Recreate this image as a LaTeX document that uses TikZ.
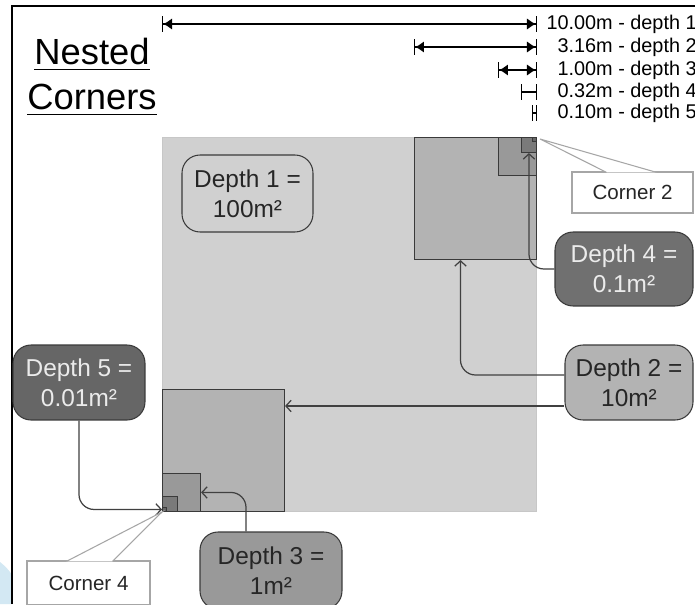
\documentclass[tikz,border=0pt]{standalone}
\usepackage{fontspec}
\setmainfont{Liberation Sans}
\usetikzlibrary{arrows.meta}
\newcommand{\ulword}[1]{\leavevmode\setbox0=\hbox{#1}\rlap{\rule[-3.1pt]{\wd0}{1.1pt}}\box0}
\definecolor{shadeA}{HTML}{D0D0D0}
\definecolor{shadeB}{HTML}{B3B3B3}
\definecolor{shadeC}{HTML}{999999}
\definecolor{shadeD}{HTML}{7A7A7A}
\definecolor{shadeE}{HTML}{666666}
\definecolor{boxFour}{HTML}{707070}
\definecolor{edge}{HTML}{3A3A3A}
\definecolor{wire}{HTML}{404040}
\definecolor{calloutgray}{HTML}{A6A6A6}
\definecolor{paletext}{HTML}{EBEBEB}
\definecolor{slideblue}{HTML}{D3E8F3}
\begin{document}
\begin{tikzpicture}[x=0.02cm, y=-0.02cm,
  sq/.style={draw=edge, line width=0.6pt, inner sep=0pt},
  depth/.style={draw=edge, line width=0.6pt, rounded corners=0.36cm, align=center, inner sep=0pt,
    minimum height=1.5cm, font=\fontsize{13.9}{17}\selectfont},
  note/.style={fill=white, draw=calloutgray, line width=0.6pt, inner sep=0pt,
    minimum width=2.42cm, minimum height=0.82cm, font=\fontsize{11.7}{14}\selectfont, text=black!85},
  pointer/.style={fill=white, draw=calloutgray, line width=0.6pt},
  link/.style={draw=wire, line width=0.7pt, rounded corners=0.3cm, -{Straight Barb[length=3pt,width=6.5pt]}},
  ruler/.style={draw=black, line width=0.7pt},
  span/.style={ruler, {Bar[width=9pt]Latex[length=5pt,width=6.5pt]}-{Latex[length=5pt,width=6.5pt]Bar[width=9pt]}},
  rulerlbl/.style={anchor=east, inner sep=0pt, font=\fontsize{11.3}{13}\selectfont},
  heading/.style={anchor=base, inner sep=0pt, font=\fontsize{20.7}{25}\selectfont}]
\useasboundingbox (0,0) rectangle (695,604);
\clip (0,0) rectangle (695,604);
\fill[white] (0,0) rectangle (695,604);
% slide frame
\fill[slideblue] (0,562) .. controls (5,566) and (9,570) .. (12,575) -- (12,604) -- (0,604) -- cycle;
\draw[line width=1.1pt] (695,6) -- (12,6) -- (12,604);
% title
\node[heading] (ttlA) at (92,65) {\ulword{Nested}};
\node[heading] (ttlB) at (92,110) {\ulword{Corners}};
% ---------------- squares: depth 1 and the two nested corners ----------------
\node[sq, draw=black!22, fill=shadeA, minimum size=7.48cm, anchor=north east] (big) at (537,137) {};
\foreach \nm/\s/\c in {2/2.44/shadeB, 3/0.76/shadeC, 4/0.30/shadeD, 5/0.08/shadeE} {
  \node[sq, fill=\c, minimum size=\s cm, anchor=north east] (up\nm) at (big.north east) {};
}
\foreach \nm/\s/\c in {2/2.44/shadeB, 3/0.76/shadeC, 4/0.30/shadeD, 5/0.08/shadeE} {
  \node[sq, fill=\c, minimum size=\s cm, anchor=south west] (lo\nm) at (big.south west) {};
}
% ---------------- side lengths ----------------
\draw[span] (big.west |- 0,24) -- (big.east |- 0,24);
\draw[span] (up2.west |- 0,47) -- (up2.east |- 0,47);
\draw[span] (up3.west |- 0,70) -- (up3.east |- 0,70);
\draw[ruler, {Bar[width=9pt]}-{Bar[width=9pt]}] (up4.west |- 0,92) -- (up4.east |- 0,92);
\draw[ruler, {Bar[width=9pt]}-{Bar[width=9pt]}] (up5.west |- 0,113) -- (up5.east |- 0,113);
\foreach \i/\y/\t in {1/24/10.00m - depth 1, 2/47/3.16m - depth 2, 3/70/1.00m - depth 3,
  4/92/0.32m - depth 4, 5/113/0.10m - depth 5}
  \node[rulerlbl] (side\i) at (697,\y) {\t};
% ---------------- area labels ----------------
\node[depth, text=black!85, minimum width=2.62cm, minimum height=1.54cm] (dOne) at (247.5,193.5) {Depth 1 =\\100m²};
\node[depth, fill=boxFour, text=paletext, minimum width=2.76cm, minimum height=1.48cm] (dFour) at (624,269) {Depth 4 =\\0.1m²};
\node[depth, fill=shadeB, text=black!85, minimum width=2.56cm] (dTwo) at (629,382.5) {Depth 2 =\\10m²};
\node[depth, fill=shadeE, text=paletext, minimum width=2.64cm] (dFive) at (79,382.5) {Depth 5 =\\0.01m²};
\node[depth, fill=shadeC, text=black!85, minimum width=2.84cm, minimum height=1.54cm] (dThree) at (271,570.5) {Depth 3 =\\1m²};
\coordinate (dTwoLo) at ([yshift=-0.47cm]dTwo.west);
\coordinate (dTwoHi) at ([yshift=0.15cm]dTwo.west);
\draw[link] (dTwoLo) -- (dTwoLo -| lo2.east);
\draw[link] (dTwoHi) -| ([xshift=-0.3cm]up2.south);
\draw[link] (dFour.west) -| (up4.south);
\draw[link] (dFive.south) |- (lo5.west);
\draw[link] ([xshift=-0.5cm]dThree.north) |- (lo3.east);
% ---------------- corner callouts ----------------
\node[note] (cTwo) at (632.5,192.5) {Corner 2};
\filldraw[pointer] ([xshift=0.7cm,yshift=-0.5pt]cTwo.north west) -- ([shift={(0.06cm,-0.04cm)}]up5.north east)
  -- ([xshift=1.7cm,yshift=-0.5pt]cTwo.north west);
\node[note, minimum width=2.46cm, minimum height=0.88cm] (cFour) at (88.5,583) {Corner 4};
\filldraw[pointer] ([xshift=0.8cm,yshift=-0.5pt]cFour.north west) -- (lo5.south west)
  -- ([xshift=1.72cm,yshift=-0.5pt]cFour.north west);
\end{tikzpicture}
\end{document}
